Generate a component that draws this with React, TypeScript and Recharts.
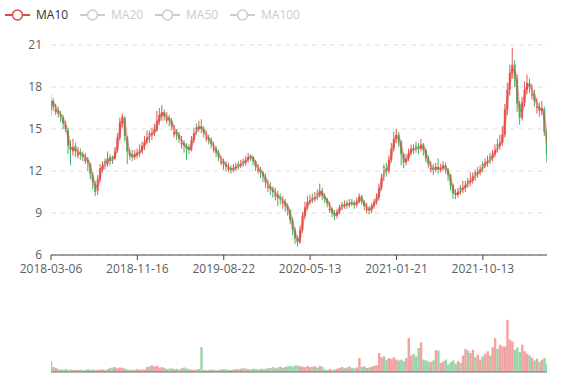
import React from 'react';
import { ComposedChart, Bar, Line, XAxis, YAxis, CartesianGrid, Cell } from 'recharts';

// ---- data (weekly sampling) ----
const tickIndex = [0, 35, 70, 105, 140, 175];
const tickLabels = ['2018-03-06', '2018-11-16', '2019-08-22', '2020-05-13', '2021-01-21', '2021-10-13'];
const yTicks = [6, 9, 12, 15, 18, 21];
const legendNames = ['MA10', 'MA20', 'MA50', 'MA100'];
const legendActive = [true, false, false, false];

const opens = [
  16.3, 17.0, 16.2, 16.3, 16.0, 15.8, 15.3, 14.9, 13.7, 13.4,
  13.8, 13.1, 13.35, 13.2, 12.7, 12.8, 12.5, 11.7, 11.1, 10.6,
  11.4, 12.1, 12.7, 12.5, 13.0, 13.0, 12.9, 13.5, 14.4, 15.4,
  15.8, 14.4, 13.3, 13.2, 13.0, 13.1, 13.3, 13.4, 13.8, 14.1,
  14.7, 14.6, 14.7, 14.9, 15.5, 15.9, 16.2, 15.6, 15.8, 15.6,
  14.6, 14.8, 14.6, 13.9, 14.0, 13.8, 13.7, 13.5, 14.2, 15.1,
  15.0, 15.2, 15.0, 14.3, 14.4, 14.2, 13.5, 13.6, 13.3, 12.6,
  12.7, 12.5, 12.1, 12.2, 12.1, 12.2, 12.5, 12.4, 12.7, 12.6,
  12.8, 13.1, 13.0, 12.7, 12.0, 12.1, 11.9, 11.6, 10.8, 10.9,
  10.7, 10.2, 10.3, 10.1, 9.7, 9.8, 9.5, 9.2, 8.5, 7.8,
  7.2, 6.9, 7.8, 8.8, 9.4, 9.8, 10.1, 10.0, 10.4, 10.3,
  10.6, 10.2, 10.0, 9.2, 9.3, 9.0, 8.8, 9.1, 9.6, 9.5,
  9.7, 9.6, 9.8, 9.7, 9.6, 9.8, 10.2, 9.8, 9.2, 9.3,
  9.2, 9.5, 9.8, 10.1, 10.8, 12.3, 12.2, 12.0, 12.8, 13.6,
  14.3, 14.6, 14.1, 13.2, 12.6, 12.9, 13.3, 13.6, 13.8, 13.7,
  13.6, 13.9, 13.5, 12.9, 12.1, 12.2, 12.1, 12.3, 12.1, 12.2,
  12.4, 12.1, 11.7, 11.0, 10.4, 10.3, 10.8, 10.7, 10.8, 11.3,
  11.2, 11.3, 11.9, 11.8, 11.9, 12.5, 12.4, 12.6, 13.0, 12.9,
  13.2, 13.9, 13.8, 14.0, 14.6, 16.4, 17.8, 19.0, 19.6, 18.6,
  16.8, 15.8, 16.9, 17.8, 18.3, 17.4, 17.5, 16.5, 16.6, 16.3,
  16.4, 14.8,
];

const highs = [
  17.5, 17.2, 16.8, 16.6, 16.3, 16.0, 15.6, 15.1, 14.2, 14.3,
  14.0, 13.7, 13.6, 13.4, 13.3, 13.0, 12.6, 11.9, 11.3, 11.7,
  12.5, 12.7, 12.9, 13.4, 13.2, 13.1, 13.7, 14.7, 15.8, 16.1,
  15.9, 14.5, 13.6, 13.5, 13.5, 13.6, 13.9, 14.1, 14.5, 14.9,
  14.9, 15.1, 15.4, 16.3, 16.5, 16.7, 16.4, 16.2, 16.0, 15.8,
  15.3, 15.0, 14.8, 14.5, 14.2, 14.0, 13.9, 14.5, 15.1, 15.4,
  15.6, 15.7, 15.2, 14.9, 14.6, 14.4, 14.1, 13.8, 13.5, 13.1,
  12.9, 12.7, 12.6, 12.4, 12.5, 12.6, 12.7, 12.8, 12.9, 13.1,
  13.3, 13.2, 13.1, 12.8, 12.5, 12.3, 12.0, 11.8, 11.4, 11.2,
  10.9, 10.8, 10.6, 10.4, 10.2, 10.0, 9.7, 9.3, 8.7, 8.0,
  7.4, 8.1, 9.1, 9.8, 10.2, 10.3, 10.4, 10.5, 10.7, 11.1,
  10.8, 10.4, 10.1, 9.8, 9.4, 9.2, 9.3, 9.6, 9.8, 9.9,
  9.9, 10.0, 10.0, 9.9, 10.1, 10.4, 10.3, 9.9, 9.7, 9.5,
  9.7, 10.0, 10.4, 11.1, 11.8, 12.5, 12.6, 13.1, 14.0, 14.8,
  15.0, 14.8, 14.2, 13.3, 13.2, 13.6, 13.9, 13.9, 14.1, 14.0,
  14.3, 14.0, 13.6, 13.1, 12.7, 12.5, 12.6, 12.9, 12.5, 12.7,
  12.6, 12.2, 11.8, 11.1, 10.7, 10.8, 11.0, 11.3, 11.3, 11.5,
  11.9, 11.9, 12.1, 12.3, 12.4, 12.7, 12.9, 13.1, 13.3, 13.5,
  13.9, 14.3, 14.6, 15.2, 16.8, 18.3, 19.6, 20.8, 19.9, 18.9,
  17.0, 17.3, 18.4, 18.9, 18.6, 18.2, 17.8, 17.2, 16.9, 17.0,
  16.6, 14.9,
];

const lows = [
  15.9, 16.3, 16.0, 15.8, 15.5, 15.0, 14.8, 13.2, 12.4, 13.1,
  13.0, 12.9, 12.8, 12.7, 12.5, 12.0, 11.4, 10.7, 10.2, 10.3,
  11.2, 11.9, 12.1, 12.3, 12.4, 12.5, 12.8, 13.3, 14.2, 15.1,
  14.1, 12.5, 12.8, 12.7, 12.8, 12.9, 13.0, 13.2, 13.5, 13.9,
  14.0, 14.2, 14.5, 14.8, 15.3, 15.6, 15.6, 15.4, 15.2, 14.9,
  14.4, 14.2, 14.0, 13.6, 13.3, 12.8, 13.2, 13.4, 14.0, 14.6,
  14.8, 14.7, 14.4, 14.1, 13.9, 13.6, 13.3, 13.0, 12.7, 12.4,
  12.1, 12.0, 11.9, 11.8, 11.9, 12.0, 12.1, 12.2, 12.3, 12.4,
  12.6, 12.7, 12.4, 12.0, 11.8, 11.5, 11.2, 10.8, 10.5, 10.3,
  10.1, 9.9, 9.5, 9.6, 9.3, 9.1, 8.8, 8.2, 7.4, 6.8,
  6.6, 6.8, 7.6, 8.6, 9.2, 9.6, 9.7, 9.8, 9.9, 10.1,
  9.9, 9.7, 9.4, 9.0, 8.7, 8.5, 8.6, 8.9, 9.2, 9.3,
  9.3, 9.4, 9.5, 9.3, 9.4, 9.7, 9.6, 9.2, 9.0, 8.9,
  9.0, 9.3, 9.6, 9.9, 10.6, 11.3, 11.6, 11.8, 12.6, 13.4,
  14.0, 13.7, 12.4, 12.2, 12.4, 12.7, 13.1, 13.2, 13.3, 13.2,
  13.4, 13.1, 12.6, 12.2, 11.9, 11.7, 11.9, 11.8, 11.9, 12.0,
  11.8, 11.3, 10.6, 10.0, 10.0, 10.1, 10.3, 10.4, 10.5, 10.8,
  10.9, 11.1, 11.3, 11.5, 11.7, 11.9, 12.2, 12.3, 12.5, 12.7,
  13.0, 13.3, 13.5, 13.8, 14.4, 16.0, 17.4, 18.6, 18.0, 16.2,
  15.3, 15.6, 16.6, 17.5, 17.6, 17.1, 16.6, 16.1, 15.9, 16.0,
  14.5, 12.6,
];

const closes = [
  17.0, 16.6, 16.4, 16.1, 15.9, 15.4, 15.0, 13.8, 13.5, 13.7,
  13.4, 13.3, 13.2, 13.0, 12.9, 12.6, 11.8, 11.2, 10.5, 11.4,
  12.2, 12.4, 12.6, 12.9, 12.7, 12.9, 13.4, 14.4, 15.5, 15.9,
  14.5, 13.4, 13.1, 13.0, 13.2, 13.3, 13.4, 13.8, 14.1, 14.4,
  14.6, 14.7, 15.0, 15.6, 16.0, 16.2, 15.9, 15.8, 15.6, 15.2,
  14.8, 14.6, 14.3, 14.0, 13.8, 13.6, 13.5, 14.2, 14.7, 15.0,
  15.2, 15.0, 14.7, 14.4, 14.2, 13.9, 13.6, 13.3, 13.0, 12.7,
  12.5, 12.3, 12.2, 12.1, 12.2, 12.3, 12.4, 12.5, 12.6, 12.8,
  13.0, 13.0, 12.7, 12.3, 12.1, 11.9, 11.6, 11.2, 10.9, 10.7,
  10.5, 10.3, 10.1, 10.0, 9.8, 9.5, 9.2, 8.5, 7.8, 7.2,
  6.9, 7.8, 8.8, 9.4, 9.8, 9.9, 10.0, 10.1, 10.3, 10.6,
  10.2, 10.0, 9.7, 9.3, 9.0, 8.8, 9.1, 9.4, 9.5, 9.6,
  9.6, 9.7, 9.7, 9.6, 9.8, 10.2, 9.8, 9.5, 9.3, 9.2,
  9.5, 9.8, 10.1, 10.8, 11.5, 12.2, 12.0, 12.8, 13.6, 14.3,
  14.6, 14.1, 13.2, 12.6, 12.9, 13.3, 13.6, 13.5, 13.7, 13.6,
  13.9, 13.5, 12.9, 12.5, 12.2, 12.1, 12.3, 12.1, 12.2, 12.4,
  12.1, 11.7, 11.0, 10.4, 10.3, 10.5, 10.7, 10.8, 11.0, 11.2,
  11.3, 11.6, 11.8, 11.9, 12.1, 12.4, 12.6, 12.7, 12.9, 13.2,
  13.5, 13.8, 14.0, 14.6, 16.4, 17.8, 19.0, 19.6, 18.6, 16.8,
  15.8, 16.9, 17.8, 18.3, 18.0, 17.5, 17.0, 16.6, 16.3, 16.5,
  14.8, 13.2,
];

const volumes = [
  26, 12, 10, 7, 6, 5, 7, 5, 6, 5,
  5, 5, 6, 4, 5, 7, 5, 6, 5, 5,
  6, 6, 5, 7, 10, 11, 12, 9, 11, 10,
  8, 6, 5, 6, 5, 7, 5, 6, 6, 12,
  14, 16, 13, 15, 11, 12, 10, 7, 8, 9,
  7, 8, 6, 9, 11, 8, 7, 6, 5, 6,
  7, 60, 5, 4, 5, 6, 5, 4, 5, 6,
  7, 6, 5, 5, 6, 7, 7, 8, 9, 8,
  7, 6, 8, 7, 6, 8, 7, 8, 9, 10,
  12, 9, 11, 13, 10, 12, 14, 15, 13, 16,
  16, 14, 13, 12, 15, 12, 13, 14, 11, 15,
  12, 6, 5, 7, 5, 6, 8, 10, 12, 9,
  11, 13, 10, 9, 11, 34, 12, 14, 10, 11,
  13, 15, 16, 46, 36, 38, 30, 34, 32, 36,
  30, 28, 30, 26, 34, 82, 40, 44, 38, 58,
  72, 30, 28, 26, 24, 28, 53, 52, 22, 26,
  30, 18, 24, 28, 20, 26, 22, 40, 56, 52,
  46, 54, 36, 42, 30, 38, 44, 50, 40, 60,
  82, 56, 66, 62, 62, 126, 78, 74, 54, 60,
  48, 66, 50, 44, 40, 34, 28, 32, 24, 30,
  34, 20,
];

// ---- styles ----
const UP = '#eb5454';
const DOWN = '#47b262';
const MA_COLOR = '#d94e42';
const FONT = '"Open Sans", "Noto Sans", sans-serif';
const LABEL = '#5b5e66';

const data = closes.map((c, i) => {
  const prev = i > 0 ? closes[i - 1] : c;
  return {
    i,
    open: opens[i],
    high: highs[i],
    low: lows[i],
    close: c,
    range: [lows[i], highs[i]],
    volume: volumes[i],
    ma10: (c + prev) / 2,
  };
});

const Candle = (props: any) => {
  const { x, y, width, height, payload } = props;
  if (!payload || x == null) return null;
  const { open, close, high, low } = payload;
  const top = Math.min(y, y + height);
  const bot = Math.max(y, y + height);
  const ppu = (bot - top) / (high - low || 1);
  const yO = top + (high - open) * ppu;
  const yC = top + (high - close) * ppu;
  const color = close >= open ? UP : DOWN;
  const cx = x + width / 2;
  const bTop = Math.min(yO, yC);
  const bH = Math.max(Math.abs(yO - yC), 1);
  return (
    <g>
      <line x1={cx} x2={cx} y1={top} y2={bot} stroke={color} strokeWidth={1} />
      <rect x={x} y={bTop} width={width} height={bH} fill={color} />
    </g>
  );
};

const LegendBar = () => {
  const xs = [5, 80, 155, 230];
  return (
    <svg width={577} height={30} style={{ position: 'absolute', left: 0, top: 0 }}>
      {legendNames.map((n, k) => {
        const c = legendActive[k] ? MA_COLOR : '#ccc';
        const x0 = xs[k];
        return (
          <g key={n}>
            <line x1={x0} x2={x0 + 25} y1={15} y2={15} stroke={c} strokeWidth={2} />
            <circle cx={x0 + 12.5} cy={15} r={5} fill="#fff" stroke={c} strokeWidth={1.5} />
            <text x={x0 + 31} y={15} dy="0.35em" fontSize={12} fontFamily={FONT}
              fill={legendActive[k] ? '#333' : '#ccc'}>{n}</text>
          </g>
        );
      })}
    </svg>
  );
};

export default function App() {
  return (
    <div style={{ position: 'absolute', left: 0, top: 0, width: 577, height: 380, background: '#fff', fontFamily: FONT }}>
      <LegendBar />
      <div style={{ position: 'absolute', left: 0, top: 0 }}>
        <ComposedChart width={577} height={290} data={data} margin={{ top: 45, right: 30, left: 0, bottom: 5 }}>
          <CartesianGrid vertical={false} stroke="#e0e0e0" strokeDasharray="5 4" />
          <XAxis
            type="number"
            dataKey="i"
            domain={[0, closes.length - 1]}
            ticks={tickIndex}
            tickFormatter={(v: number) => tickLabels[tickIndex.indexOf(v)] ?? ''}
            height={30}
            tickSize={5}
            tickMargin={4}
            axisLine={{ stroke: '#444' }}
            tickLine={{ stroke: '#444' }}
            tick={{ fill: LABEL, fontSize: 12, fontFamily: FONT }}
            interval={0}
            allowDataOverflow
          />
          <YAxis
            type="number"
            domain={[6, 21]}
            ticks={yTicks}
            width={51}
            axisLine={false}
            tickLine={false}
            tickSize={0}
            tickMargin={9}
            tick={{ fill: LABEL, fontSize: 12, fontFamily: FONT }}
            interval={0}
            allowDataOverflow
          />
          <Bar dataKey="range" barSize={2} isAnimationActive={false} shape={(p: any) => <Candle {...p} />} />
          <Line
            dataKey="ma10"
            type="monotone"
            stroke={MA_COLOR}
            strokeOpacity={0.5}
            strokeWidth={2.5}
            dot={false}
            activeDot={false}
            isAnimationActive={false}
          />
        </ComposedChart>
      </div>
      <div style={{ position: 'absolute', left: 0, top: 290 }}>
        <ComposedChart width={577} height={90} data={data} margin={{ top: 20, right: 30, left: 51, bottom: 7 }}>
          <XAxis
            type="number"
            dataKey="i"
            domain={[0, closes.length - 1]}
            height={1}
            tick={false}
            tickLine={false}
            axisLine={{ stroke: '#6E7079' }}
            allowDataOverflow
          />
          <YAxis type="number" domain={[0, 150]} hide />
          <Bar dataKey="volume" barSize={2.4} fillOpacity={0.55} isAnimationActive={false}>
            {data.map((d) => (
              <Cell key={d.i} fill={d.close >= d.open ? UP : DOWN} />
            ))}
          </Bar>
        </ComposedChart>
      </div>
    </div>
  );
}
